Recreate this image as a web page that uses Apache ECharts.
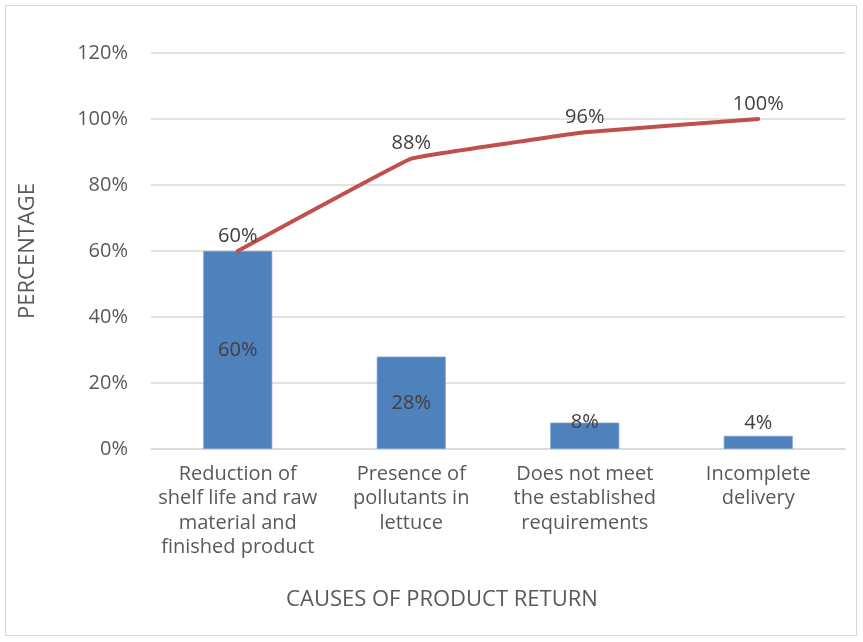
<!DOCTYPE html>
<html><head><meta charset="utf-8">
<script src="https://cdn.jsdelivr.net/npm/echarts@6/dist/echarts.min.js"></script>
<style>
html,body{margin:0;padding:0;background:#fff;}
#frame{position:absolute;left:5px;top:5px;width:852px;height:631px;border:1.5px solid #d9d9d9;box-sizing:border-box;}
#chart{position:absolute;left:0;top:0;width:863px;height:642px;}
</style></head>
<body>
<div id="frame"></div>
<div id="chart"></div>
<script>
const categories = [
  "Reduction of\nshelf life and raw\nmaterial and\nfinished product",
  "Presence of\npollutants in\nlettuce",
  "Does not meet\nthe established\nrequirements",
  "Incomplete\ndelivery"
];
const percentValues = [60, 28, 8, 4];
const cumulativeValues = [60, 88, 96, 100];
const yTicks = [0, 20, 40, 60, 80, 100, 120];
const yAxisTitle = "PERCENTAGE";
const xAxisTitle = "CAUSES OF PRODUCT RETURN";

const FONT = "Open Sans";
const chart = echarts.init(document.getElementById('chart'));

const barData = percentValues.map(function (v) {
  let label;
  if (v >= 20) label = { position: 'inside' };
  else if (v >= 6) label = { position: 'top', distance: -10 };
  else label = { position: 'top', distance: 3 };
  return { value: v, label: label };
});

chart.setOption({
  animation: false,
  grid: { left: 151, right: 18, top: 53, bottom: 193 },
  xAxis: {
    type: 'category',
    data: categories,
    axisLine: { lineStyle: { color: '#d9d9d9', width: 1.5 } },
    axisTick: { show: false },
    axisLabel: { color: '#595959', fontFamily: FONT, fontSize: 20, lineHeight: 24.5, margin: 13, interval: 0 }
  },
  yAxis: {
    type: 'value',
    min: yTicks[0], max: yTicks[yTicks.length - 1], interval: 20,
    name: yAxisTitle, nameLocation: 'middle', nameRotate: 90, nameGap: 112,
    nameTextStyle: { color: '#595959', fontFamily: FONT, fontSize: 22 },
    axisLine: { show: false }, axisTick: { show: false },
    axisLabel: { color: '#595959', fontFamily: FONT, fontSize: 20, margin: 23, formatter: '{value}%' },
    splitLine: { lineStyle: { color: '#d9d9d9', width: 1.5 } }
  },
  graphic: [{
    type: 'text', x: 442, y: 600,
    style: { text: xAxisTitle, fill: '#595959', font: '22px "' + FONT + '"', align: 'center', verticalAlign: 'middle' }
  }],
  series: [{
    type: 'bar',
    data: barData,
    barWidth: 69,
    itemStyle: { color: '#4f81bd', borderColor: '#7fa3d2', borderWidth: 0.7 },
    label: { show: true, color: '#404040', fontFamily: FONT, fontSize: 20, formatter: '{c}%' },
    z: 2
  }, {
    type: 'line',
    data: cumulativeValues,
    smooth: 0.05,
    symbol: 'circle',
    symbolSize: 2,
    showSymbol: true,
    itemStyle: { color: 'rgba(192,80,77,0)', borderWidth: 0 },
    lineStyle: { color: '#c0504d', width: 4, cap: 'round' },
    label: { show: true, position: 'top', distance: 4, color: '#404040', fontFamily: FONT, fontSize: 20, formatter: '{c}%' },
    labelLayout: { hideOverlap: false },
    z: 3
  }]
});
</script>
</body></html>
